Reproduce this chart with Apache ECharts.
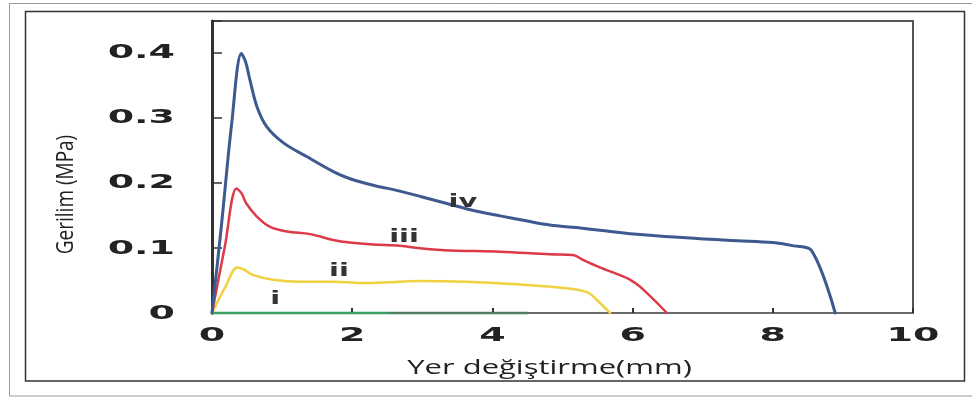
<!DOCTYPE html>
<html>
<head>
<meta charset="utf-8">
<script src="https://cdn.jsdelivr.net/npm/echarts@6/dist/echarts.min.js"></script>
<style>
  html, body { margin: 0; padding: 0; background: #fff; }
  #main { width: 972px; height: 398px; }
</style>
</head>
<body>
<div id="main"></div>
<script>
// ---- data ----
const xTicks = [0, 2, 4, 6, 8, 10];
const xTickLabels = ['0', '2', '4', '6', '8', '10'];
const yTicks = [0, 0.1, 0.2, 0.3, 0.4];
const yTickLabels = ['0', '0.1', '0.2', '0.3', '0.4'];
const xTitle = 'Yer değiştirme(mm)';
const yTitle = 'Gerilim (MPa)';

const seriesI = [[0, 0], [1.0, 0], [2.5, 0], [3.5, 0], [4.5, 0]];
const seriesII = [[0, 0], [0.2, 0.042], [0.36, 0.070], [0.45, 0.067], [0.59, 0.058], [0.87, 0.051],
  [1.26, 0.048], [1.73, 0.048], [2.11, 0.046], [2.5, 0.047], [2.92, 0.049], [3.63, 0.048],
  [4.35, 0.044], [5.06, 0.038], [5.35, 0.032], [5.49, 0.020], [5.68, 0]];
const seriesIII = [[0, 0], [0.18, 0.10], [0.35, 0.191], [0.42, 0.184], [0.49, 0.168],
  [0.64, 0.148], [0.83, 0.132], [1.07, 0.125], [1.40, 0.121], [1.73, 0.112], [1.97, 0.108],
  [2.3, 0.105], [2.68, 0.103], [3.0, 0.099], [3.4, 0.096], [4.11, 0.094], [4.82, 0.090],
  [5.15, 0.089], [5.30, 0.081], [5.53, 0.070], [5.82, 0.058], [5.95, 0.052], [6.11, 0.040], [6.49, 0]];
const seriesIV = [[0, 0], [0.14, 0.14], [0.28, 0.29], [0.42, 0.398], [0.48, 0.385],
  [0.54, 0.358], [0.64, 0.317], [0.78, 0.286], [1.02, 0.261], [1.35, 0.240], [1.73, 0.217],
  [1.97, 0.206], [2.3, 0.196], [2.68, 0.187], [3.0, 0.178], [3.35, 0.168], [3.7, 0.158],
  [4.11, 0.149], [4.5, 0.141], [4.82, 0.135], [5.2, 0.131], [5.53, 0.127], [6.15, 0.120],
  [6.96, 0.114], [7.5, 0.111], [8.0, 0.108], [8.3, 0.103], [8.55, 0.096], [8.89, 0]];
const curveLabels = ['i', 'ii', 'iii', 'iv'];
const curveLabelPos = [[0.90, 0.020], [1.81, 0.064], [2.74, 0.115], [3.58, 0.169]];

// ---- chart ----
const chart = echarts.init(document.getElementById('main'), null, { renderer: 'canvas' });

function lineSeries(name, data, color, width, smooth) {
  return {
    name: name, type: 'line', data: data, showSymbol: false, symbol: 'none',
    smooth: smooth, clip: false,
    lineStyle: { color: color, width: width, join: 'round', cap: 'round' }, z: 3
  };
}

const option = {
  animation: false,
  backgroundColor: '#ffffff',
  grid: { left: 212, right: 59, top: 21, bottom: 85, show: true, borderColor: '#555', borderWidth: 2, backgroundColor: 'transparent' },
  xAxis: {
    type: 'value', min: 0, max: 10, interval: 2,
    axisLine: { show: true, onZero: false, lineStyle: { color: '#6b6b6b', width: 2 } },
    axisTick: { show: true, inside: true, length: 5, lineStyle: { color: '#333', width: 2 } },
    axisLabel: { show: false },
    splitLine: { show: false }
  },
  yAxis: {
    type: 'value', min: 0, max: 0.448, interval: 0.1,
    axisLine: { show: true, lineStyle: { color: '#333', width: 3 } },
    axisTick: { show: true, inside: true, length: 10, lineStyle: { color: '#333', width: 1.5 } },
    axisLabel: { show: false },
    splitLine: { show: false }
  },
  series: [
    lineSeries('i', seriesI, new echarts.graphic.LinearGradient(0, 0, 1, 0, [
      { offset: 0, color: '#35a060' }, { offset: 0.54, color: '#35a060' },
      { offset: 0.58, color: '#4f7a60' }, { offset: 1, color: '#4f7a60' }]), 2.5, false),
    lineSeries('ii', seriesII, '#f1d140', 2.5, 0.35),
    lineSeries('iii', seriesIII, '#dc3a46', 2.5, 0.35),
    lineSeries('iv', seriesIV, '#3d5a90', 3, 0.35)
  ]
};
chart.setOption(option);

function px(x, y) { return chart.convertToPixel({ gridIndex: 0 }, [x, y]); }

const graphics = [
  { type: 'rect', silent: true, z: 1, shape: { x: 9.5, y: 3.5, width: 980, height: 392.5 },
    style: { fill: 'none', stroke: '#9a9a9a', lineWidth: 1 } },
  { type: 'rect', silent: true, z: 1, shape: { x: 25.5, y: 11.5, width: 939, height: 369.5 },
    style: { fill: 'none', stroke: '#333', lineWidth: 1.5 } }
];
const digitFont = { fontFamily: 'DejaVu Sans', fontWeight: 'bold', fontSize: 20, fill: '#222' };
xTicks.forEach(function (v, i) {
  const p = px(v, 0);
  graphics.push({ type: 'text', silent: true, z: 10, x: p[0], y: 336, scaleX: 1.9,
    style: Object.assign({ text: xTickLabels[i], align: 'center', verticalAlign: 'middle' }, digitFont) });
});
yTicks.forEach(function (v, i) {
  const p = px(0, v);
  graphics.push({ type: 'text', silent: true, z: 10, x: 175, y: p[1] + 0.5, scaleX: 1.9,
    style: Object.assign({ text: yTickLabels[i], align: 'right', verticalAlign: 'middle' }, digitFont) });
});
curveLabels.forEach(function (t, i) {
  const p = px(curveLabelPos[i][0], curveLabelPos[i][1]);
  graphics.push({ type: 'text', silent: true, z: 10, x: p[0], y: p[1], scaleX: 1.7,
    style: { text: t, align: 'center', verticalAlign: 'middle', fontFamily: 'DejaVu Sans', fontWeight: 'bold', fontSize: 17, fill: '#333' } });
});
graphics.push({ type: 'text', silent: true, z: 10, x: 549.5, y: 368.5, scaleX: 1.55,
  style: { text: xTitle, align: 'center', verticalAlign: 'middle', fontFamily: 'Open Sans', fontSize: 20, fill: '#222' } });
graphics.push({ type: 'text', silent: true, z: 10, x: 67, y: 194.5, rotation: Math.PI / 2, scaleY: 1.2,
  style: { text: yTitle, align: 'center', verticalAlign: 'middle', fontFamily: 'Open Sans', fontSize: 19, fill: '#222' } });

chart.setOption({ graphic: { elements: graphics } });
</script>
</body>
</html>
